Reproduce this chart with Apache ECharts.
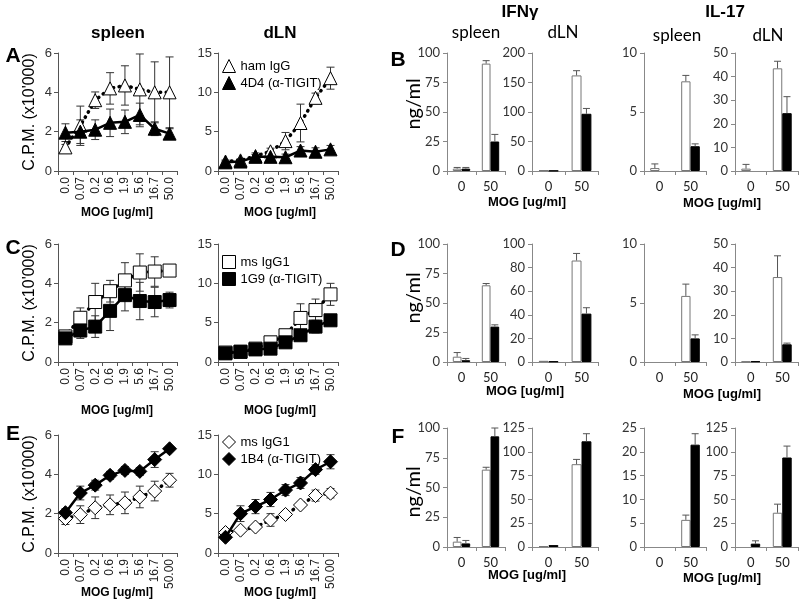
<!DOCTYPE html>
<html><head><meta charset="utf-8">
<script src="https://cdn.jsdelivr.net/npm/echarts@6/dist/echarts.min.js"></script>
<style>html,body{margin:0;padding:0;background:#fff}#c{width:800px;height:601px}</style>
</head><body><div id="c"></div><script>
// ---------- categories / tick labels ----------
const doses = ['0.0','0.07','0.2','0.6','1.9','5.6','16.7','50.0'];
const dosesE = ['0.0','0.07','0.2','0.6','1.9','5.6','16.7','50.00'];
const mogCats = ['0','50'];
const namesA = ['ham IgG','4D4 (α-TIGIT)'];
const namesC = ['ms IgG1','1G9 (α-TIGIT)'];
const namesE = ['ms IgG1','1B4 (α-TIGIT)'];

// ---------- proliferation (C.P.M. x10'000) ----------
const A_spl_ctrl = [1.2, 2.3, 3.6, 4.2, 4.35, 4.15, 4.0, 4.0];
const A_spl_ctrl_sd = [0.15, 1.0, 0.42, 0.8, 1.0, 1.8, 1.55, 1.8];
const A_spl_tig = [1.95, 2.0, 2.1, 2.45, 2.5, 2.85, 2.15, 1.9];
const A_spl_tig_sd = [0.45, 0.6, 0.5, 0.7, 0.6, 0.6, 0.35, 0.25];
const A_dln_ctrl = [1.2, 1.35, 1.9, 2.5, 3.8, 6.1, 9.3, 11.8];
const A_dln_ctrl_sd = [0.2, 0.2, 0.4, 0.4, 1.1, 2.4, 0.6, 1.4];
const A_dln_tig = [1.1, 1.2, 1.8, 1.8, 1.75, 2.6, 2.45, 2.75];
const A_dln_tig_sd = [0.15, 0.2, 0.3, 0.6, 0.4, 0.5, 0.5, 0.5];

const C_spl_ctrl = [1.3, 2.25, 3.05, 3.6, 4.15, 4.55, 4.6, 4.65];
const C_spl_ctrl_sd = [0.15, 0.5, 0.95, 0.55, 0.9, 0.95, 0.75, 0.2];
const C_spl_tig = [1.2, 1.6, 1.8, 2.6, 3.4, 3.1, 3.05, 3.15];
const C_spl_tig_sd = [0.1, 0.4, 0.55, 1.0, 0.8, 0.95, 0.75, 0.4];
const C_dln_ctrl = [1.2, 1.3, 1.7, 2.5, 3.4, 5.6, 6.6, 8.6];
const C_dln_ctrl_sd = [0.2, 0.2, 0.2, 0.3, 0.4, 1.8, 1.4, 1.4];
const C_dln_tig = [1.1, 1.3, 1.6, 1.7, 2.5, 3.4, 4.5, 5.3];
const C_dln_tig_sd = [0.1, 0.1, 0.1, 0.2, 0.3, 0.5, 0.8, 0.3];

const E_spl_ctrl = [1.75, 1.95, 2.3, 2.45, 2.55, 2.85, 3.15, 3.7];
const E_spl_ctrl_sd = [0.3, 0.45, 0.55, 0.5, 0.55, 0.55, 0.5, 0.35];
const E_spl_tig = [2.05, 3.05, 3.45, 3.95, 4.2, 4.15, 4.75, 5.3];
const E_spl_tig_sd = [0.2, 0.35, 0.25, 0.2, 0.2, 0.2, 0.4, 0.1];
const E_dln_ctrl = [2.6, 2.9, 3.3, 4.2, 4.9, 6.1, 7.3, 7.6];
const E_dln_ctrl_sd = [0.2, 0.2, 0.3, 0.8, 0.3, 0.3, 0.7, 0.6];
const E_dln_tig = [2.0, 5.0, 5.9, 6.8, 8.0, 8.9, 10.6, 11.6];
const E_dln_tig_sd = [0.3, 1.0, 0.9, 0.9, 0.7, 0.7, 0.6, 0.9];

// ---------- cytokines (ng/ml); white = control, black = anti-TIGIT ----------
const B_ifn_spl_w = [2, 91], B_ifn_spl_w_sd = [1, 2.5], B_ifn_spl_b = [2, 25], B_ifn_spl_b_sd = [1, 6];
const B_ifn_dln_w = [1.5, 162], B_ifn_dln_w_sd = [0, 8], B_ifn_dln_b = [0.5, 97], B_ifn_dln_b_sd = [0, 9];
const B_il_spl_w = [0.25, 7.6], B_il_spl_w_sd = [0.35, 0.5], B_il_spl_b = [0, 2.1], B_il_spl_b_sd = [0, 0.2];
const B_il_dln_w = [1, 43.5], B_il_dln_w_sd = [1.8, 3], B_il_dln_b = [0, 24.5], B_il_dln_b_sd = [0, 7];

const D_ifn_spl_w = [4.5, 65], D_ifn_spl_w_sd = [3.5, 1.5], D_ifn_spl_b = [1.5, 30], D_ifn_spl_b_sd = [1.5, 1.5];
const D_ifn_dln_w = [1, 86], D_ifn_dln_w_sd = [0, 6], D_ifn_dln_b = [0.5, 41], D_ifn_dln_b_sd = [0, 5];
const D_il_spl_w = [0, 5.6], D_il_spl_w_sd = [0, 1.0], D_il_spl_b = [0, 2.0], D_il_spl_b_sd = [0, 0.3];
const D_il_dln_w = [0.2, 36], D_il_dln_w_sd = [0, 9], D_il_dln_b = [0.3, 7.5], D_il_dln_b_sd = [0, 0.5];

const F_ifn_spl_w = [4.5, 65], F_ifn_spl_w_sd = [3.5, 2], F_ifn_spl_b = [3, 93], F_ifn_spl_b_sd = [2.5, 7];
const F_ifn_dln_w = [1, 87], F_ifn_dln_w_sd = [0, 5], F_ifn_dln_b = [2, 111], F_ifn_dln_b_sd = [0, 8];
const F_il_spl_w = [0, 5.7], F_il_spl_w_sd = [0, 1.0], F_il_spl_b = [0, 21.5], F_il_spl_b_sd = [0, 2.3];
const F_il_dln_w = [0, 36], F_il_dln_w_sd = [0, 9], F_il_dln_b = [3.5, 94], F_il_dln_b_sd = [3, 12];

// ---------- layout ----------
const ARIAL = 'Liberation Sans, Arial, sans-serif';
const CAL = 'Lato, Open Sans, sans-serif';
const grids = [], xAxes = [], yAxes = [], series = [];

function lineErr(params, api) {
  const x = api.value(0);
  const lo = api.coord([x, api.value(1)]);
  const hi = api.coord([x, api.value(2)]);
  const c = 4, st = {stroke: '#333', lineWidth: 1};
  return {type: 'group', children: [
    {type: 'line', shape: {x1: lo[0], y1: lo[1], x2: hi[0], y2: hi[1]}, style: st},
    {type: 'line', shape: {x1: hi[0] - c, y1: hi[1], x2: hi[0] + c, y2: hi[1]}, style: st},
    {type: 'line', shape: {x1: lo[0] - c, y1: lo[1], x2: lo[0] + c, y2: lo[1]}, style: st}
  ]};
}
function barErr(params, api) {
  const i = api.value(0), side = api.value(3);
  const bw = api.size([1, 0])[0] * 0.3;
  const p0 = api.coord([i, api.value(1)]);
  const p1 = api.coord([i, api.value(2)]);
  const x = p0[0] + side * bw / 2, c = 3.5, st = {stroke: '#555', lineWidth: 1};
  return {type: 'group', children: [
    {type: 'line', shape: {x1: x, y1: p0[1], x2: x, y2: p1[1]}, style: st},
    {type: 'line', shape: {x1: x - c, y1: p1[1], x2: x + c, y2: p1[1]}, style: st}
  ]};
}

function linePanel(left, top, width, cats, yMax, yInt, ctrl, ctrlSd, tig, tigSd, sym, names) {
  const gi = grids.length;
  grids.push({left: left, top: top, width: width, height: 118, containLabel: false, outerBoundsMode: 'none'});
  xAxes.push({type: 'category', gridIndex: gi, data: cats, boundaryGap: true,
    axisLine: {lineStyle: {color: '#555', width: 1}},
    axisTick: {show: true, length: 4, lineStyle: {color: '#555'}},
    axisLabel: {rotate: 90, fontSize: 12, fontFamily: ARIAL, color: '#222', margin: 6, interval: 0}});
  yAxes.push({type: 'value', gridIndex: gi, min: 0, max: yMax, interval: yInt,
    axisLine: {show: true, lineStyle: {color: '#555', width: 1}},
    axisTick: {show: true, length: 4, lineStyle: {color: '#555'}},
    splitLine: {show: false},
    axisLabel: {fontSize: 13, fontFamily: ARIAL, color: '#333', margin: 6}});
  const mk = (v, sd) => v.map((y, i) => [i, y - sd[i], y + sd[i]]);
  series.push({type: 'custom', xAxisIndex: gi, yAxisIndex: gi, z: 1, silent: true, clip: false,
    renderItem: lineErr, encode: {x: 0, y: [1, 2]}, data: mk(ctrl, ctrlSd)});
  series.push({type: 'custom', xAxisIndex: gi, yAxisIndex: gi, z: 1, silent: true, clip: false,
    renderItem: lineErr, encode: {x: 0, y: [1, 2]}, data: mk(tig, tigSd)});
  const ss = sym === 'diamond' ? 14 : 13;
  series.push({type: 'line', name: names[0], xAxisIndex: gi, yAxisIndex: gi, z: 3, data: ctrl,
    symbol: sym, symbolSize: ss,
    itemStyle: {color: '#fff', borderColor: '#000', borderWidth: 1},
    lineStyle: {color: '#000', width: 3.5, type: [0.5, 5.5], cap: 'round'}, animation: false});
  series.push({type: 'line', name: names[1], xAxisIndex: gi, yAxisIndex: gi, z: 4, data: tig,
    symbol: sym, symbolSize: ss,
    itemStyle: {color: '#000', borderColor: '#000', borderWidth: 1},
    lineStyle: {color: '#000', width: 2.5}, animation: false});
}

function barPanel(left, top, width, height, yMax, yInt, w, wSd, b, bSd) {
  const gi = grids.length;
  grids.push({left: left, top: top, width: width, height: height, containLabel: false, outerBoundsMode: 'none'});
  xAxes.push({type: 'category', gridIndex: gi, data: mogCats, boundaryGap: true,
    axisLine: {lineStyle: {color: '#888', width: 1}},
    axisTick: {show: true, length: 4, lineStyle: {color: '#888'}},
    axisLabel: {fontSize: 13, fontFamily: CAL, color: '#222', margin: 9}});
  yAxes.push({type: 'value', gridIndex: gi, min: 0, max: yMax, interval: yInt,
    axisLine: {show: true, lineStyle: {color: '#888', width: 1}},
    axisTick: {show: true, length: 4, lineStyle: {color: '#888'}},
    splitLine: {show: false},
    axisLabel: {fontSize: 13, fontFamily: CAL, color: '#333', margin: 7}});
  const nz = v => v.map(x => (x > 0 ? x : '-'));
  series.push({type: 'bar', xAxisIndex: gi, yAxisIndex: gi, data: nz(w), barWidth: '30%', barGap: '0%', z: 2,
    itemStyle: {color: '#fff', borderColor: '#777', borderWidth: 1}, animation: false});
  series.push({type: 'bar', xAxisIndex: gi, yAxisIndex: gi, data: nz(b), barWidth: '30%', barGap: '0%', z: 2,
    itemStyle: {color: '#000', borderColor: '#000', borderWidth: 1}, animation: false});
  const ed = [];
  w.forEach((v, i) => { if (wSd[i] > 0) ed.push([i, v, v + wSd[i], -1]); });
  b.forEach((v, i) => { if (bSd[i] > 0) ed.push([i, v, v + bSd[i], 1]); });
  series.push({type: 'custom', xAxisIndex: gi, yAxisIndex: gi, z: 3, silent: true, clip: false,
    renderItem: barErr, encode: {x: 0, y: [1, 2]}, data: ed});
}

// line panels
linePanel(58, 53, 119, doses, 6, 2, A_spl_ctrl, A_spl_ctrl_sd, A_spl_tig, A_spl_tig_sd, 'triangle', namesA);
linePanel(218, 53, 120, doses, 15, 5, A_dln_ctrl, A_dln_ctrl_sd, A_dln_tig, A_dln_tig_sd, 'triangle', namesA);
linePanel(58, 244, 119, doses, 6, 2, C_spl_ctrl, C_spl_ctrl_sd, C_spl_tig, C_spl_tig_sd, 'rect', namesC);
linePanel(218, 244, 120, doses, 15, 5, C_dln_ctrl, C_dln_ctrl_sd, C_dln_tig, C_dln_tig_sd, 'rect', namesC);
linePanel(58, 435, 119, dosesE, 6, 2, E_spl_ctrl, E_spl_ctrl_sd, E_spl_tig, E_spl_tig_sd, 'diamond', namesE);
linePanel(218, 435, 120, dosesE, 15, 5, E_dln_ctrl, E_dln_ctrl_sd, E_dln_tig, E_dln_tig_sd, 'diamond', namesE);

// bar panels
barPanel(447, 53, 58, 118, 100, 25, B_ifn_spl_w, B_ifn_spl_w_sd, B_ifn_spl_b, B_ifn_spl_b_sd);
barPanel(532, 53, 66, 118, 200, 50, B_ifn_dln_w, B_ifn_dln_w_sd, B_ifn_dln_b, B_ifn_dln_b_sd);
barPanel(644, 53, 62, 118, 10, 5, B_il_spl_w, B_il_spl_w_sd, B_il_spl_b, B_il_spl_b_sd);
barPanel(735, 53, 63, 118, 50, 10, B_il_dln_w, B_il_dln_w_sd, B_il_dln_b, B_il_dln_b_sd);
barPanel(447, 244, 58, 118, 100, 25, D_ifn_spl_w, D_ifn_spl_w_sd, D_ifn_spl_b, D_ifn_spl_b_sd);
barPanel(532, 244, 66, 118, 100, 20, D_ifn_dln_w, D_ifn_dln_w_sd, D_ifn_dln_b, D_ifn_dln_b_sd);
barPanel(644, 244, 62, 118, 10, 5, D_il_spl_w, D_il_spl_w_sd, D_il_spl_b, D_il_spl_b_sd);
barPanel(735, 244, 63, 118, 50, 10, D_il_dln_w, D_il_dln_w_sd, D_il_dln_b, D_il_dln_b_sd);
barPanel(447, 428, 58, 119, 100, 25, F_ifn_spl_w, F_ifn_spl_w_sd, F_ifn_spl_b, F_ifn_spl_b_sd);
barPanel(532, 428, 66, 119, 125, 25, F_ifn_dln_w, F_ifn_dln_w_sd, F_ifn_dln_b, F_ifn_dln_b_sd);
barPanel(644, 428, 62, 119, 25, 5, F_il_spl_w, F_il_spl_w_sd, F_il_spl_b, F_il_spl_b_sd);
barPanel(735, 428, 63, 119, 125, 25, F_il_dln_w, F_il_dln_w_sd, F_il_dln_b, F_il_dln_b_sd);

function legendFor(top, names, sym) {
  return {left: 222, top: top, orient: 'vertical', itemGap: 3, itemWidth: 13, itemHeight: 13,
    selectedMode: false, padding: 0,
    textStyle: {fontSize: 13, fontFamily: ARIAL, color: '#000'},
    data: [
      {name: names[0], icon: sym, itemStyle: {color: '#fff', borderColor: '#000', borderWidth: 1}},
      {name: names[1], icon: sym, itemStyle: {color: '#000', borderColor: '#000', borderWidth: 1}}
    ]};
}

function txt(s, x, y, font, rot) {
  return {type: 'text', x: x, y: y, rotation: rot || 0, silent: true,
    style: {text: s, font: font, fill: '#000', align: 'center', verticalAlign: 'middle'}};
}
const BT = 'bold 17px ' + ARIAL, MOG = 'bold 12px ' + ARIAL, LET = 'bold 21px ' + ARIAL;
const graphics = [
  txt('spleen', 118, 33, BT), txt('dLN', 280, 33, BT),
  txt('IFNγ', 520, 12, BT), txt('IL-17', 725, 12, BT),
  txt('spleen', 476, 33, '17px ' + CAL), txt('dLN', 563, 33, '17px ' + CAL),
  txt('spleen', 677, 36, '17px ' + CAL), txt('dLN', 768, 36, '17px ' + CAL),
  txt('A', 13, 56, LET), txt('C', 13, 248, LET), txt('E', 13, 434, LET),
  txt('B', 398, 60, LET), txt('D', 398, 250, LET), txt('F', 398, 437, LET),
  txt("C.P.M. (x10'000)", 30, 112, '16px ' + ARIAL, Math.PI / 2),
  txt("C.P.M. (x10'000)", 30, 303, '16px ' + ARIAL, Math.PI / 2),
  txt("C.P.M. (x10'000)", 30, 494, '16px ' + ARIAL, Math.PI / 2),
  txt('ng/ml', 414, 104, '20px ' + CAL, Math.PI / 2),
  txt('ng/ml', 414, 298, '20px ' + CAL, Math.PI / 2),
  txt('ng/ml', 414, 492, '20px ' + CAL, Math.PI / 2),
  txt('MOG [ug/ml]', 117, 213, MOG), txt('MOG [ug/ml]', 280, 213, MOG),
  txt('MOG [ug/ml]', 117, 411, MOG), txt('MOG [ug/ml]', 280, 411, MOG),
  txt('MOG [ug/ml]', 117, 593, MOG), txt('MOG [ug/ml]', 280, 593, MOG),
  txt('MOG [ug/ml]', 527, 202, 'bold 13px ' + ARIAL), txt('MOG [ug/ml]', 722, 203, 'bold 13px ' + ARIAL),
  txt('MOG [ug/ml]', 525, 391, 'bold 13px ' + ARIAL), txt('MOG [ug/ml]', 722, 394, 'bold 13px ' + ARIAL),
  txt('MOG [ug/ml]', 527, 575, 'bold 13px ' + ARIAL), txt('MOG [ug/ml]', 722, 578, 'bold 13px ' + ARIAL)
];

const chart = echarts.init(document.getElementById('c'), null, {renderer: 'canvas'});
chart.setOption({
  animation: false,
  backgroundColor: '#fff',
  grid: grids, xAxis: xAxes, yAxis: yAxes, series: series,
  legend: [legendFor(59, namesA, 'triangle'), legendFor(255, namesC, 'rect'), legendFor(435, namesE, 'diamond')],
  graphic: graphics
});
</script></body></html>
